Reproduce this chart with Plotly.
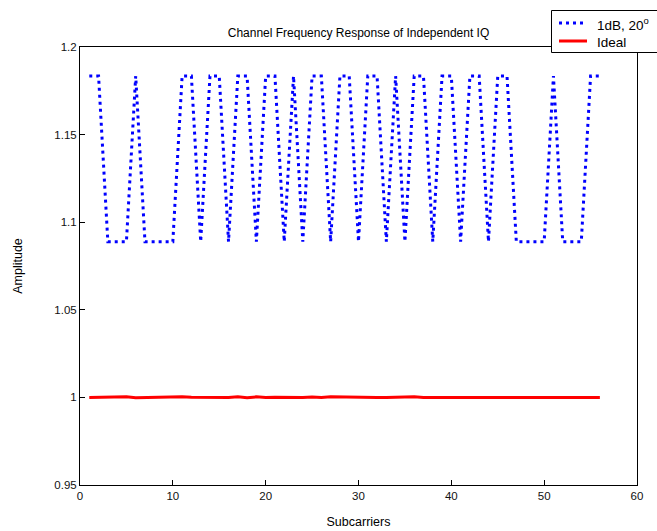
import plotly.graph_objects as go

subcarriers = list(range(1, 57))
hi, lo = 1.1834, 1.0889
pattern = "HHLLLHLLLLHHLHHLHHLHHLHLHHLHHLHHLHLHHLHHLHHLHHLLLLHLLLHH"
iq_values = [hi if c == "H" else lo for c in pattern]
ideal_values = [1.0000, 1.0000, 1.0000, 1.0000, 1.0003, 0.9998, 0.9999, 1.0003,
                1.0004, 1.0004, 1.0003, 1.0001, 1.0000, 1.0000, 1.0000, 1.0000,
                1.0003, 0.9998, 1.0003, 0.9999, 1.0001, 1.0000, 1.0003, 0.9999,
                1.0002, 1.0000, 1.0003, 1.0002, 1.0000, 0.9998, 0.9998, 0.9999,
                1.0000, 1.0002, 1.0003, 1.0003, 0.9999, 0.9999, 1.0003, 0.9999,
                1.0002, 1.0000, 1.0000, 1.0000, 1.0000, 1.0003, 1.0000, 1.0000,
                1.0000, 1.0003, 1.0000, 1.0000, 1.0000, 1.0000, 1.0002, 0.9999]
series_names = ["1dB, 20<sup>o</sup>", "Ideal"]
series_colors = ["#0000FF", "#FF0000"]
series_dash = ["3px,4px", "solid"]

# plot-area geometry in pixels (for converting legend placement)
L, R, T, B = 80, 637, 47, 485
def px(xpix):
    return (xpix - L) / (R - L)
def py(ypix):
    return (B - ypix) / (B - T)

fig = go.Figure()
for yv, nm, col, ds in zip([iq_values, ideal_values], series_names,
                           series_colors, series_dash):
    fig.add_trace(go.Scatter(x=subcarriers, y=yv, mode="lines", name=nm,
                             showlegend=False,
                             line=dict(color=col, width=3, dash=ds)))

axis_common = dict(showline=True, linecolor="black", linewidth=1, mirror=True,
                   ticks="inside", ticklen=5, tickcolor="black", showgrid=False,
                   zeroline=False, tickfont=dict(size=11.5, color="#111"))

shapes = [dict(type="rect", xref="paper", yref="paper",
               x0=px(551.5), x1=px(680), y0=py(52.5), y1=py(10.5),
               fillcolor="white", line=dict(color="black", width=1),
               layer="above")]
annotations = []
for i, (nm, col, ds) in enumerate(zip(series_names, series_colors, series_dash)):
    yc = [23, 41][i]
    shapes.append(dict(type="line", xref="paper", yref="paper",
                       x0=px(559), x1=px(587), y0=py(yc), y1=py(yc),
                       line=dict(color=col, width=3, dash=ds), layer="above"))
    annotations.append(dict(text=nm, xref="paper", yref="paper",
                            x=px(595), y=py(yc + 1), xanchor="left",
                            yanchor="middle", showarrow=False,
                            font=dict(size=13.5, color="black")))

fig.update_layout(
    width=657, height=531,
    margin=dict(l=L, r=657 - R, t=T, b=531 - B, autoexpand=False),
    paper_bgcolor="white", plot_bgcolor="white",
    font=dict(family="Liberation Sans, Arial, sans-serif", color="black"),
    title=dict(text="Channel Frequency Response of Independent IQ",
               x=(L + (R - L) / 2) / 657, xanchor="center", y=1 - 33 / 531,
               yanchor="middle", font=dict(size=12)),
    xaxis=dict(range=[0, 60], dtick=10, tick0=0,
               title=dict(text="Subcarriers", font=dict(size=12.5), standoff=16),
               **axis_common),
    yaxis=dict(range=[0.95, 1.2], dtick=0.05, tick0=0.95,
               title=dict(text="Amplitude", font=dict(size=12.5), standoff=28),
               **axis_common),
    shapes=shapes,
    annotations=annotations,
    showlegend=False,
)

fig.write_html("out.html")
